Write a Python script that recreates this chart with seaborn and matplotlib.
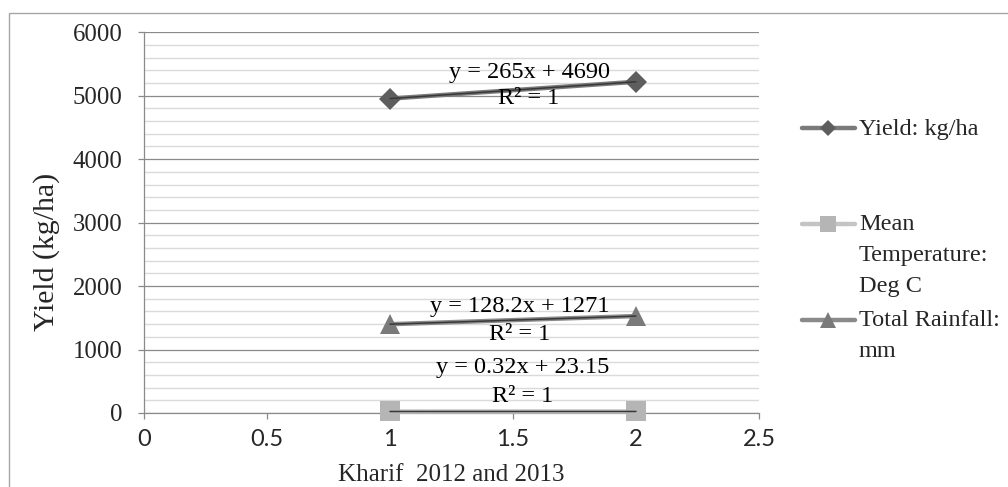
import numpy as np
import pandas as pd
import seaborn as sns
import matplotlib.pyplot as plt
from matplotlib.patches import Rectangle
from matplotlib.ticker import MultipleLocator, FixedLocator, FixedFormatter

# ---------------- data ----------------
seasons = [1, 2]
yield_kg_ha = [4955, 5220]
mean_temp = [23.47, 23.79]
rainfall_mm = [1399.2, 1527.4]

series_names = ["Yield: kg/ha", "Mean Temperature: Deg C", "Total Rainfall: mm"]
legend_labels = ["Yield: kg/ha\n\n", "Mean\nTemperature:\nDeg C", "Total Rainfall:\nmm"]
trend_equations = ["y = 265x + 4690", "y = 0.32x + 23.15", "y = 128.2x + 1271"]
trend_r2 = ["R² = 1", "R² = 1", "R² = 1"]

x_ticks = [0, 0.5, 1, 1.5, 2, 2.5]
x_tick_labels = ["0", "0.5", "1", "1.5", "2", "2.5"]
y_ticks = [0, 1000, 2000, 3000, 4000, 5000, 6000]
y_tick_labels = ["0", "1000", "2000", "3000", "4000", "5000", "6000"]
x_title = "Kharif  2012 and 2013"
y_title = "Yield (kg/ha)"

df = pd.DataFrame({"season": seasons, series_names[0]: yield_kg_ha,
                   series_names[1]: mean_temp, series_names[2]: rainfall_mm})

# ---------------- style ----------------
sns.set_style("white")
plt.rcParams["font.family"] = ["Liberation Serif", "DejaVu Serif"]

fig = plt.figure(figsize=(10.08, 4.87), dpi=100)
ax = fig.add_axes([0.1429, 0.152, 0.6101, 0.7817])

line_colors = ["#7A7A7A", "#C4C4C4", "#8A8A8A"]
marker_colors = ["#5E5E5E", "#B5B5B5", "#7A7A7A"]
markers = ["D", "s", "^"]
marker_sizes = [11, 14.5, 14.5]

handles = []
for i, name in enumerate(series_names):
    sns.lineplot(data=df, x="season", y=name, ax=ax, color=line_colors[i],
                 linewidth=3.2, marker=markers[i], markersize=marker_sizes[i],
                 markerfacecolor=marker_colors[i], markeredgecolor=marker_colors[i],
                 markeredgewidth=0, label=name, zorder=3, legend=False, clip_on=False)
    handles.append(ax.get_lines()[-1])
    sns.regplot(data=df, x="season", y=name, ax=ax, scatter=False, ci=None,
                truncate=True, line_kws=dict(color="#383838", linewidth=1.1, zorder=4,
                                             clip_on=False))

# trendline labels
eq_pos = [(0.626, 0.880), (0.615, 0.105), (0.611, 0.265)]
r2_pos = [(0.626, 0.811), (0.615, 0.029), (0.611, 0.192)]
for i in range(3):
    ax.text(*eq_pos[i], trend_equations[i], transform=ax.transAxes, ha="center",
            va="baseline", fontsize=17.5, color="black", zorder=5)
    ax.text(*r2_pos[i], trend_r2[i], transform=ax.transAxes, ha="center",
            va="baseline", fontsize=17.5, color="black", zorder=5)

# axes
ax.set_xlim(0, 2.5)
ax.set_ylim(0, 6000)
ax.xaxis.set_major_locator(FixedLocator(x_ticks))
ax.xaxis.set_major_formatter(FixedFormatter(x_tick_labels))
ax.yaxis.set_major_locator(FixedLocator(y_ticks))
ax.yaxis.set_major_formatter(FixedFormatter(y_tick_labels))
ax.yaxis.set_minor_locator(MultipleLocator(200))

ax.grid(which="minor", axis="y", color="#DADADA", linewidth=1.0)
ax.grid(which="major", axis="y", color="#8A8A8A", linewidth=0.9)
ax.grid(which="major", axis="x", visible=False)
ax.set_axisbelow(True)

for s in ["top", "right"]:
    ax.spines[s].set_visible(False)
for s in ["left", "bottom"]:
    ax.spines[s].set_color("#8A8A8A")
    ax.spines[s].set_linewidth(0.9)

ax.tick_params(which="major", direction="out", length=4.5, width=0.9, color="#8A8A8A")
ax.tick_params(which="minor", length=0)
ax.tick_params(axis="y", labelsize=17.8, pad=11, left=True)
ax.tick_params(axis="x", labelsize=17, pad=7, bottom=True)
for t in ax.get_xticklabels():
    t.set_family(["Lato", "Liberation Sans"])

ax.set_xlabel(x_title, fontsize=18)
ax.xaxis.set_label_coords(0.5, -0.134)
ax.set_ylabel(y_title, fontsize=21.5)
ax.yaxis.set_label_coords(-0.136, 0.423)

# legend
leg = fig.legend(handles, legend_labels, loc="upper left", bbox_to_anchor=(0.7956, 0.756),
                 frameon=False, fontsize=17.5, handlelength=2.17, handletextpad=0.17,
                 handleheight=1.0, borderpad=0, borderaxespad=0, labelspacing=0.55,
                 markerscale=0.75)
for t in leg.get_texts():
    t.set_linespacing(1.6)
for col in leg._legend_handle_box.get_children():
    for item in col.get_children():
        item.align = "top"

# outer chart border (cropped)
fig.patches.append(Rectangle((0.0089, -0.1), 1.2, 0.9733 + 0.1, transform=fig.transFigure,
                             fill=False, edgecolor="#A6A6A6", linewidth=1.0, clip_on=False))

fig.savefig("out.png", dpi=100)
